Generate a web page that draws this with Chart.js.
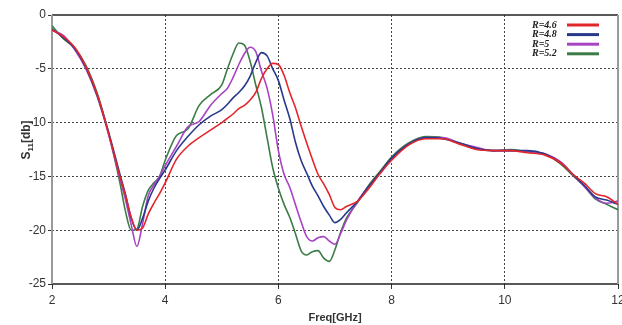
<!DOCTYPE html>
<html>
<head>
<meta charset="UTF-8">
<title>S11 vs Freq</title>
<script src="https://cdn.jsdelivr.net/npm/chart.js@4.4.0/dist/chart.umd.min.js"></script>
<style>
  body { margin: 0; background: #ffffff; }
  #wrap { width: 622px; height: 325px; }
</style>
</head>
<body>
<div id="wrap"><canvas id="s11Chart" width="622" height="325"></canvas></div>
<script>
// frequency points (GHz) shared by all four curves
const freq = [
  2.0, 2.2, 2.4, 2.6, 2.8, 3.0, 3.2, 3.3, 3.4, 3.5,
  3.6, 3.7, 3.8, 3.9, 4.0, 4.2, 4.4, 4.6, 4.8, 5.0,
  5.1, 5.2, 5.3, 5.4, 5.5, 5.6, 5.7, 5.8, 5.9, 6.0,
  6.1, 6.2, 6.3, 6.4, 6.5, 6.6, 6.7, 6.8, 6.9, 7.0,
  7.1, 7.2, 7.4, 7.6, 7.8, 8.0, 8.3, 8.6, 8.9, 9.2,
  9.5, 9.8, 10.1, 10.4, 10.7, 11.0, 11.2, 11.4, 11.6, 11.8,
  12.0
];

const s11R46 = [
  -1.4, -2.0, -3.0, -4.8, -7.4, -11.0, -15.0, -16.8, -18.8, -20.0,
  -19.8, -18.5, -17.5, -16.6, -15.6, -13.4, -12.2, -11.4, -10.7, -10.0,
  -9.6, -9.2, -8.7, -8.4, -7.9, -7.2, -5.9, -5.0, -4.5, -4.6,
  -5.6, -7.2, -8.6, -10.3, -11.9, -13.4, -14.8, -15.7, -16.7, -17.9,
  -18.1, -17.8, -17.3, -16.1, -14.7, -13.5, -12.1, -11.5, -11.5, -12.0,
  -12.5, -12.6, -12.6, -12.8, -13.0, -13.8, -14.8, -15.6, -16.6, -16.9,
  -17.6
];

const s11R48 = [
  -1.3, -2.1, -3.1, -4.9, -7.5, -10.9, -14.8, -16.7, -18.9, -20.0,
  -18.9, -17.3, -16.1, -15.2, -14.4, -12.6, -11.3, -10.2, -9.4, -8.8,
  -8.3, -7.7, -7.2, -6.6, -5.7, -4.4, -3.5, -3.8, -5.0, -6.1,
  -7.9, -9.6, -11.8, -13.5, -14.7, -15.9, -16.8, -17.8, -18.6, -19.3,
  -19.0, -18.4, -17.3, -15.9, -14.6, -13.3, -12.0, -11.4, -11.5, -11.9,
  -12.4, -12.6, -12.6, -12.6, -12.9, -13.8, -14.8, -15.8, -16.9, -17.2,
  -17.6
];

const s11R50 = [
  -1.4, -1.9, -3.2, -5.0, -7.6, -11.1, -15.2, -17.2, -19.5, -21.5,
  -19.4, -16.8, -15.8, -15.0, -14.0, -12.2, -10.4, -9.9, -8.4, -7.3,
  -6.8, -5.8, -4.6, -3.6, -3.0, -3.4, -5.2, -6.8, -9.3, -12.6,
  -14.8, -16.0, -17.6, -19.2, -20.6, -21.0, -20.7, -20.6, -21.0, -21.3,
  -20.3, -19.1, -17.3, -15.9, -14.7, -13.4, -12.0, -11.4, -11.4, -11.9,
  -12.3, -12.6, -12.6, -12.7, -12.9, -13.7, -14.8, -15.9, -17.0, -17.5,
  -17.3
];

const s11R52 = [
  -1.0, -2.2, -3.1, -4.7, -7.3, -11.0, -15.6, -18.3, -20.0, -19.9,
  -17.8, -16.3, -15.6, -15.0, -13.5, -11.2, -10.6, -8.4, -7.4, -6.5,
  -5.0, -3.6, -2.6, -2.8, -4.3, -6.5, -8.6, -11.4, -14.2, -16.1,
  -17.6, -18.8, -20.3, -21.9, -22.3, -22.0, -21.9, -22.6, -22.9, -21.8,
  -20.2, -18.9, -17.4, -15.8, -14.5, -13.2, -11.9, -11.3, -11.4, -11.9,
  -12.4, -12.6, -12.5, -12.7, -12.9, -13.9, -14.9, -15.9, -17.1, -17.6,
  -18.1
];

const seriesLabels = ['R=4.6', 'R=4.8', 'R=5', 'R=5.2'];
const seriesValues = [s11R46, s11R48, s11R50, s11R52];
const seriesColors = ['#e2262b', '#28398b', '#a843c4', '#3b7c47'];

const xTicks = [2, 4, 6, 8, 10, 12];
const yTicks = [0, -5, -10, -15, -20, -25];

const datasets = seriesLabels.map((label, i) => ({
  label: label,
  data: freq.map((f, j) => ({ x: f, y: seriesValues[i][j] })),
  borderColor: seriesColors[i],
  backgroundColor: seriesColors[i],
  borderWidth: 1.6,
  pointRadius: 0,
  cubicInterpolationMode: 'monotone',
  fill: false
}));

// solid frame: black top/bottom, grey left/right
const framePlugin = {
  id: 'frame',
  beforeDatasetsDraw(chart) {
    const { ctx, chartArea: a } = chart;
    ctx.save();
    ctx.lineWidth = 1.5;
    ctx.strokeStyle = '#222';
    ctx.beginPath();
    ctx.moveTo(a.left, a.top); ctx.lineTo(a.right, a.top);
    ctx.moveTo(a.left, a.bottom); ctx.lineTo(a.right, a.bottom);
    ctx.stroke();
    ctx.strokeStyle = '#9a9a9a';
    ctx.lineWidth = 2;
    ctx.beginPath();
    ctx.moveTo(a.left, a.top); ctx.lineTo(a.left, a.bottom);
    ctx.moveTo(a.right, a.top); ctx.lineTo(a.right, a.bottom);
    ctx.stroke();
    ctx.restore();
  }
};

// y title with subscript: S11[db]
const yTitlePlugin = {
  id: 'yTitle',
  afterDraw(chart) {
    const ctx = chart.ctx;
    const big = 'bold 12px "Liberation Sans", Arial, sans-serif';
    const small = 'bold 8px "Liberation Sans", Arial, sans-serif';
    ctx.save();
    ctx.fillStyle = '#333';
    ctx.font = big; const wS = ctx.measureText('S').width; const wDb = ctx.measureText('[db]').width;
    ctx.font = small; const w11 = ctx.measureText('11').width;
    const total = wS + w11 + wDb;
    ctx.translate(27, 140);
    ctx.rotate(-Math.PI / 2);
    ctx.textBaseline = 'middle';
    ctx.textAlign = 'left';
    let x = -total / 2;
    ctx.font = big; ctx.fillText('S', x, 0); x += wS;
    ctx.font = small; ctx.fillText('11', x, 4); x += w11;
    ctx.font = big; ctx.fillText('[db]', x, 0);
    ctx.restore();
  }
};

// legend: italic label then a short coloured line
const legendPlugin = {
  id: 'sideLegend',
  afterDatasetsDraw(chart) {
    const ctx = chart.ctx;
    ctx.save();
    ctx.font = 'italic bold 10px "Liberation Serif", "DejaVu Serif", serif';
    ctx.textAlign = 'left';
    ctx.textBaseline = 'middle';
    chart.data.datasets.forEach((ds, i) => {
      const y = 25 + i * 9.6;
      ctx.fillStyle = '#222';
      ctx.fillText(ds.label, 532, y);
      ctx.strokeStyle = ds.borderColor;
      ctx.lineWidth = 3;
      ctx.beginPath();
      ctx.moveTo(567, y); ctx.lineTo(599, y);
      ctx.stroke();
    });
    ctx.restore();
  }
};

const tickFont = { family: '"Liberation Sans", Arial, sans-serif', size: 12 };

new Chart(document.getElementById('s11Chart'), {
  type: 'line',
  data: { datasets: datasets },
  options: {
    responsive: false,
    animation: false,
    layout: { padding: { top: 15, right: 4, left: 0, bottom: 0 } },
    plugins: { legend: { display: false }, tooltip: { enabled: false } },
    scales: {
      x: {
        type: 'linear',
        min: xTicks[0],
        max: xTicks[xTicks.length - 1],
        afterBuildTicks: s => { s.ticks = xTicks.map(v => ({ value: v })); },
        afterFit: s => { s.height = 41; s.paddingRight = 0; s.paddingLeft = 0; },
        border: { display: false, dash: [2, 2] },
        grid: {
          color: c => (c.tick && (c.tick.value === 2 || c.tick.value === 12)) ? 'rgba(0,0,0,0)' : '#444',
          lineWidth: 1,
          tickLength: 5,
          tickColor: '#333',
          tickBorderDash: [1, 0]
        },
        ticks: { color: '#333', font: tickFont, padding: 4, maxRotation: 0 },
        title: {
          display: true,
          text: 'Freq[GHz]',
          color: '#333',
          font: { family: '"Liberation Sans", Arial, sans-serif', size: 11, weight: 'bold' },
          padding: { top: 0, bottom: 0 }
        }
      },
      y: {
        min: yTicks[yTicks.length - 1],
        max: yTicks[0],
        afterBuildTicks: s => { s.ticks = yTicks.slice().reverse().map(v => ({ value: v })); },
        afterFit: s => { s.width = 52; },
        border: { display: false, dash: [2, 2] },
        grid: {
          color: c => (c.tick && (c.tick.value === 0 || c.tick.value === -25)) ? 'rgba(0,0,0,0)' : '#444',
          lineWidth: 1,
          tickLength: 4,
          tickColor: '#333',
          tickBorderDash: [1, 0]
        },
        ticks: { color: '#333', font: tickFont, padding: 2 }
      }
    }
  },
  plugins: [framePlugin, yTitlePlugin, legendPlugin]
});
</script>
</body>
</html>
